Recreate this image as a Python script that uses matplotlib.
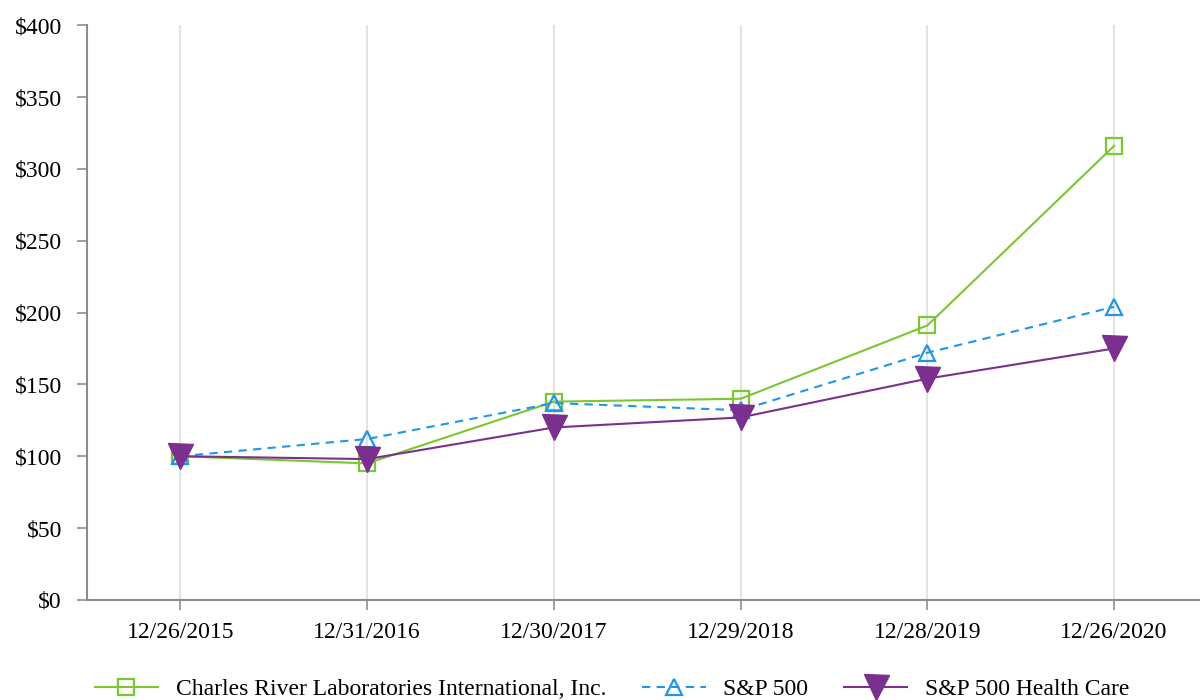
import matplotlib.pyplot as plt
import numpy as np

plt.rcParams['font.family'] = ['Liberation Serif', 'DejaVu Serif']

dates = ['12/26/2015', '12/31/2016', '12/30/2017', '12/29/2018', '12/28/2019', '12/26/2020']
crl = [100, 95, 138, 140, 191, 316]
sp500 = [100, 112, 137, 132, 172, 204]
sp_health = [100, 98, 120, 127, 154, 175]

fig = plt.figure(figsize=(12, 7), dpi=100)
ax = fig.add_axes([0.0725, 0.143, 0.9275, 0.821])

x = np.arange(len(dates))

ax.plot(x, crl, color='#7cc62f', linewidth=1.5, marker='s', markersize=11,
        markerfacecolor='none', markeredgewidth=1.6,
        label='Charles River Laboratories International, Inc.')
ax.plot(x, sp500, color='#2196e8', linewidth=1.5, linestyle=(0, (4, 3)), marker='^',
        markersize=11, markerfacecolor='none', markeredgewidth=1.6, label='S&P 500')
ax.plot(x, sp_health, color='#7b2f8e', linewidth=1.5, marker='v', markersize=18,
        label='S&P 500 Health Care')

ax.set_xlim(-0.5, 5.46)
ax.set_ylim(0, 400)
ax.set_yticks(range(0, 401, 50))
ax.set_yticklabels(['$%d' % v for v in range(0, 401, 50)])
ax.set_xticks(x)
ax.set_xticklabels(dates)

ax.grid(axis='x', color='#e3e3e3', linewidth=1.5)
ax.set_axisbelow(True)

for s in ['top', 'right']:
    ax.spines[s].set_visible(False)
for s in ['left', 'bottom']:
    ax.spines[s].set_color('#8c8c8c')
    ax.spines[s].set_linewidth(1.5)

ax.tick_params(axis='both', colors='#8c8c8c', labelcolor='black', labelsize=17,
               length=7, width=1.2)
ax.tick_params(axis='x', pad=9)
ax.tick_params(axis='y', pad=11)

fig.legend(loc='lower center', bbox_to_anchor=(0.51, -0.031), ncol=3, frameon=False,
           fontsize=17, handlelength=2.7, columnspacing=1.5, handletextpad=0.75)

fig.savefig('out.png', dpi=100)
